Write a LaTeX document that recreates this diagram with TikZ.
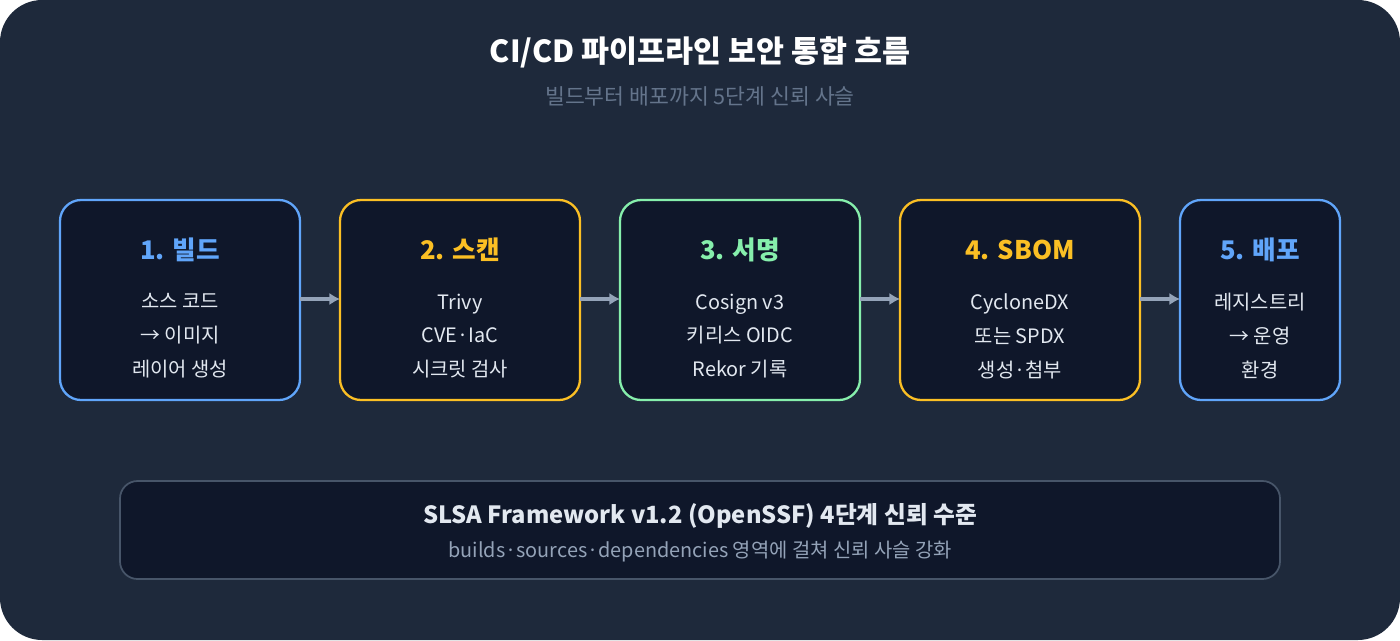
\documentclass[tikz,border=0pt]{standalone}
\usepackage{fontspec}
\setmainfont{Noto Sans CJK KR}
\usetikzlibrary{positioning,arrows.meta}
\definecolor{bgdark}{HTML}{1E293B}
\definecolor{boxfill}{HTML}{0F172A}
\definecolor{stepblue}{HTML}{60A5FA}
\definecolor{stepamber}{HTML}{FBBF24}
\definecolor{stepgreen}{HTML}{86EFAC}
\definecolor{bodytext}{HTML}{E2E8F0}
\definecolor{subgray}{HTML}{64748B}
\definecolor{arrowgray}{HTML}{94A3B8}
\definecolor{panelline}{HTML}{475569}
\tikzset{
  stagebox/.style={draw=#1, line width=1.3pt, fill=boxfill, rounded corners=12pt},
  stagetitle/.style={text=#1, font=\fontsize{14.6}{17}\selectfont\bfseries},
  stagebody/.style={text=bodytext, align=center, font=\fontsize{11.3}{19.3}\selectfont},
  flowarrow/.style={draw=arrowgray, line width=1.8pt, -{Latex[length=6pt,width=7pt]}}
}
\begin{document}
\begin{tikzpicture}[x=0.02cm, y=-0.02cm]
  \useasboundingbox (0,0) rectangle (1400,640);
  \fill[bgdark, rounded corners=24pt] (0,0) rectangle (1400,640);

  %%%%%%%%%%% Title %%%%%%%%%%%
  \node[text=white, font=\fontsize{17.3}{20}\selectfont\bfseries] (title) at (700,52) {CI/CD 파이프라인 보안 통합 흐름};
  \node[text=subgray, font=\fontsize{12.3}{14}\selectfont] (subtitle) at (700,96) {빌드부터 배포까지 5단계 신뢰 사슬};

  %%%%%%%%%%% Stage boxes %%%%%%%%%%%
  \draw[stagebox=stepblue] (60,200) rectangle (300,400);
  \draw[stagebox=stepamber] (340,200) rectangle (580,400);
  \draw[stagebox=stepgreen] (620,200) rectangle (860,400);
  \draw[stagebox=stepamber] (900,200) rectangle (1140,400);
  \draw[stagebox=stepblue] (1180,200) rectangle (1340,400);
  \coordinate (b1r) at (300,299); \coordinate (b2l) at (340,299);
  \coordinate (b2r) at (580,299); \coordinate (b3l) at (620,299);
  \coordinate (b3r) at (860,299); \coordinate (b4l) at (900,299);
  \coordinate (b4r) at (1140,299); \coordinate (b5l) at (1180,299);

  %%%%%%%%%%% Stage texts %%%%%%%%%%%
  \node[stagetitle=stepblue] (t1) at (180,250) {1. 빌드};
  \node[stagebody] (d1) at (180,336) {소스 코드\\→ 이미지\\레이어 생성};
  \node[stagetitle=stepamber] (t2) at (460,250) {2. 스캔};
  \node[stagebody] (d2) at (460,336) {Trivy\\CVE·IaC\\시크릿 검사};
  \node[stagetitle=stepgreen] (t3) at (740,250) {3. 서명};
  \node[stagebody] (d3) at (740,336) {Cosign v3\\키리스 OIDC\\Rekor 기록};
  \node[stagetitle=stepamber] (t4) at (1020,250) {4. SBOM};
  \node[stagebody] (d4) at (1020,336) {CycloneDX\\또는 SPDX\\생성·첨부};
  \node[stagetitle=stepblue] (t5) at (1260,250) {5. 배포};
  \node[stagebody] (d5) at (1260,336) {레지스트리\\→ 운영\\환경};

  %%%%%%%%%%% Arrows %%%%%%%%%%%
  \draw[flowarrow] (b1r) -- (b2l);
  \draw[flowarrow] (b2r) -- (b3l);
  \draw[flowarrow] (b3r) -- (b4l);
  \draw[flowarrow] (b4r) -- (b5l);

  %%%%%%%%%%% SLSA panel %%%%%%%%%%%
  \draw[draw=panelline, line width=1pt, fill=boxfill, rounded corners=10pt] (120,481) rectangle (1280,579);
  \node[text=bodytext, font=\fontsize{13.5}{16}\selectfont\bfseries] (slsa) at (700,516) {SLSA Framework v1.2 (OpenSSF) 4단계 신뢰 수준};
  \node[text=arrowgray, font=\fontsize{11.3}{13}\selectfont] (slsanote) at (700,552) {builds·sources·dependencies 영역에 걸쳐 신뢰 사슬 강화};
\end{tikzpicture}
\end{document}
